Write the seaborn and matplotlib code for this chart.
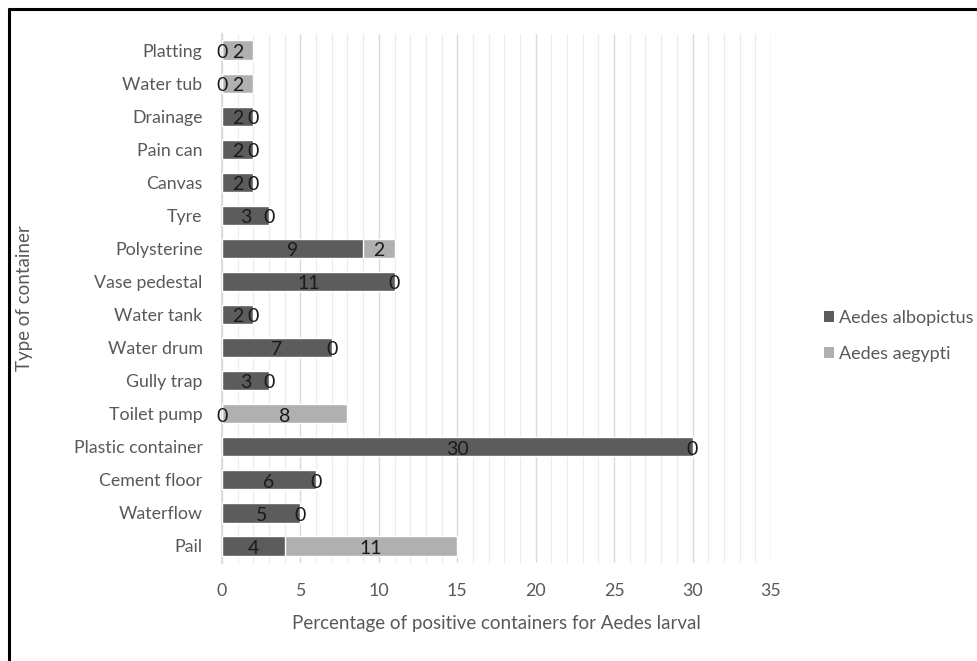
import matplotlib
matplotlib.use("Agg")
import matplotlib.pyplot as plt
import seaborn as sns
import pandas as pd
from matplotlib.patches import Patch
from matplotlib.lines import Line2D

# Data (top to bottom as shown)
containers = ["Platting", "Water tub", "Drainage", "Pain can", "Canvas", "Tyre",
              "Polysterine", "Vase pedestal", "Water tank", "Water drum", "Gully trap",
              "Toilet pump", "Plastic container", "Cement floor", "Waterflow", "Pail"]
albopictus = [0, 0, 2, 2, 2, 3, 9, 11, 2, 7, 3, 0, 30, 6, 5, 4]
aegypti = [2, 2, 0, 0, 0, 0, 2, 0, 0, 0, 0, 8, 0, 0, 0, 11]
xticks = [0, 5, 10, 15, 20, 25, 30, 35]

dark = "#5c5c5c"
light = "#b0b0b0"
txt = "#595959"

sns.set_theme(style="white")
plt.rcParams["font.family"] = ["Lato", "DejaVu Sans"]

df = pd.DataFrame({"container": containers, "albo": albopictus, "aeg": aegypti})
df["total"] = df["albo"] + df["aeg"]

fig = plt.figure(figsize=(9.78, 6.61), dpi=100)
ax = fig.add_axes([0.227, 0.149, 0.5613, 0.8003])

sns.barplot(data=df, x="total", y="container", order=containers, orient="h",
            color=light, saturation=1, width=0.58, ax=ax, zorder=3)
sns.barplot(data=df, x="albo", y="container", order=containers, orient="h",
            color=dark, saturation=1, width=0.58, ax=ax, zorder=3)

for i, (a, g) in enumerate(zip(albopictus, aegypti)):
    ax.text(a / 2, i + 0.07, str(a), ha="center", va="center", fontsize=14, color="#1a1a1a", zorder=5)
    ax.text(a + g / 2, i + 0.07, str(g), ha="center", va="center", fontsize=14, color="#1a1a1a", zorder=5)

ax.set_xlim(0, 35)
ax.set_ylim(len(containers) - 0.5, -0.5)
ax.set_xticks(xticks)
ax.set_xticks(range(0, 36), minor=True)
ax.grid(axis="x", which="minor", color="#ececec", linewidth=0.9, zorder=0)
ax.grid(axis="x", which="major", color="#dadada", linewidth=1.0, zorder=0)
ax.set_axisbelow(True)
for s in ["top", "right", "bottom"]:
    ax.spines[s].set_visible(False)
ax.spines["left"].set_color("#d9d9d9")
ax.tick_params(axis="both", length=0, labelsize=12.8, colors=txt)
ax.tick_params(axis="x", pad=15)
ax.tick_params(axis="y", pad=14)
ax.set_xlabel("Percentage of positive containers for Aedes larval", fontsize=13.5, color=txt, labelpad=11)
ax.set_ylabel("Type of container", fontsize=13.5, color=txt, labelpad=0)
ax.yaxis.set_label_coords(-0.345, 0.5)

handles = [Patch(facecolor=dark, edgecolor="none"), Patch(facecolor=light, edgecolor="none")]
fig.legend(handles, ["Aedes albopictus", "Aedes aegypti"], loc="center left",
           bbox_to_anchor=(0.826, 0.4917), frameon=False, fontsize=13,
           handlelength=0.55, handleheight=0.55, handletextpad=0.3, labelspacing=1.1,
           labelcolor=txt)

# frame lines top and left
fig.add_artist(Line2D([0.0092, 1.0], [0.9864, 0.9864], color="black", linewidth=2.2, transform=fig.transFigure))
fig.add_artist(Line2D([0.0092, 0.0092], [0.0, 0.9864], color="black", linewidth=2.2, transform=fig.transFigure))

fig.savefig("out.png", dpi=100, facecolor="white")
